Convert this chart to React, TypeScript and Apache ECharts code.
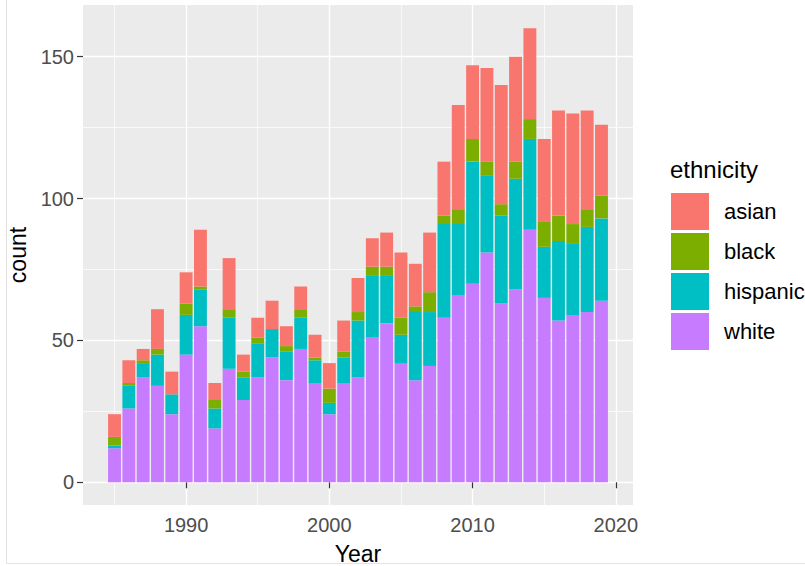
import React, { useEffect, useRef } from "react";
import * as echarts from "echarts";

const years = [
  1985, 1986, 1987, 1988, 1989, 1990, 1991, 1992, 1993, 1994, 1995, 1996,
  1997, 1998, 1999, 2000, 2001, 2002, 2003, 2004, 2005, 2006, 2007, 2008,
  2009, 2010, 2011, 2012, 2013, 2014, 2015, 2016, 2017, 2018, 2019,
];
const white = [
  12, 26, 37, 34, 24, 45, 55, 19, 40, 29, 37, 44, 36, 47, 35, 24, 35, 37, 51,
  56, 42, 36, 41, 58, 66, 70, 81, 63, 68, 89, 65, 57, 59, 60, 64,
];
const hispanic = [
  1, 8, 5, 11, 7, 14, 13, 7, 18, 8, 12, 10, 10, 11, 8, 4, 9, 20, 22, 17, 10,
  24, 19, 33, 25, 43, 27, 31, 39, 32, 18, 28, 25, 30, 29,
];
const black = [
  3, 1, 1, 2, 0, 4, 1, 3, 3, 2, 2, 0, 2, 3, 1, 5, 2, 3, 3, 3, 6, 2, 7, 3, 5,
  8, 5, 4, 6, 7, 9, 9, 7, 6, 8,
];
const asian = [
  8, 8, 4, 14, 8, 11, 20, 6, 18, 6, 7, 10, 7, 8, 8, 9, 11, 12, 10, 12, 23, 15,
  21, 19, 37, 26, 33, 42, 37, 32, 29, 37, 39, 35, 25,
];
const yMajorTicks = [0, 50, 100, 150];
const yMinorTicks = [25, 75, 125];
const xMajorTicks = [1990, 2000, 2010, 2020];
const xMinorTicks = [1985, 1995, 2005, 2015];

const COLORS: Record<string, string> = {
  asian: "#F8766D",
  black: "#7CAE00",
  hispanic: "#00BFC4",
  white: "#C77CFF",
};

const FONT = "Liberation Sans, Arial, sans-serif";

export default function App() {
  const ref = useRef<HTMLDivElement>(null);
  useEffect(() => {
    if (!ref.current) return;
    const chart = echarts.init(ref.current, undefined, { renderer: "svg" });
    // data rows are [count, year] so that the count dimension is the stacked one
    const mk = (name: string, arr: number[]) => ({
      name,
      type: "bar",
      stack: "total",
      barWidth: "90%",
      xAxisIndex: 0,
      yAxisIndex: 0,
      encode: { x: 1, y: 0 },
      itemStyle: { color: COLORS[name] },
      data: years.map((y, i) => [arr[i], y]),
      z: 3,
    });
    const xMin = 1982.8;
    const xMax = 2021.2;
    const yMin = -8;
    const yMax = 168.2;
    chart.setOption({
      animation: false,
      backgroundColor: "#FFFFFF",
      textStyle: { fontFamily: FONT },
      title: {
        text: "ethnicity",
        left: 670,
        top: 157,
        padding: 0,
        textStyle: {
          fontSize: 24,
          fontWeight: "normal",
          color: "#000",
          fontFamily: FONT,
        },
      },
      legend: {
        orient: "vertical",
        left: 671,
        top: 193,
        padding: 0,
        itemWidth: 38,
        itemHeight: 37,
        itemGap: 3,
        icon: "rect",
        data: ["asian", "black", "hispanic", "white"],
        textStyle: {
          fontSize: 22,
          color: "#000",
          fontFamily: FONT,
          padding: [0, 0, 0, 10],
        },
      },
      grid: {
        left: 83,
        right: 172,
        top: 5,
        bottom: 61,
        show: true,
        backgroundColor: "#EBEBEB",
        borderWidth: 0,
        containLabel: false,
        outerBoundsMode: "none",
      },
      xAxis: [
        {
          type: "value",
          min: xMin,
          max: xMax,
          position: "bottom",
          axisLine: { show: false },
          axisTick: {
            show: true,
            length: 6,
            lineStyle: { color: "#333333", width: 1.2 },
            customValues: xMajorTicks,
          },
          axisLabel: {
            customValues: xMajorTicks,
            formatter: (v: number) => String(v),
            color: "#4D4D4D",
            fontSize: 20,
            fontFamily: FONT,
            margin: 10,
          },
          splitLine: { show: true, lineStyle: { color: "#FFFFFF", width: 1.4 } },
          name: "Year",
          nameLocation: "middle",
          nameGap: 37,
          nameTextStyle: { fontSize: 23, color: "#000", fontFamily: FONT },
        },
        {
          type: "value",
          min: xMin,
          max: xMax,
          position: "top",
          axisLine: { show: false },
          axisTick: { show: false, customValues: xMinorTicks },
          axisLabel: { show: false, customValues: xMinorTicks },
          splitLine: { show: true, lineStyle: { color: "#FFFFFF", width: 0.7 } },
        },
      ],
      yAxis: [
        {
          type: "value",
          min: yMin,
          max: yMax,
          position: "left",
          axisLine: { show: false },
          axisTick: {
            show: true,
            length: 6,
            lineStyle: { color: "#333333", width: 1.2 },
            customValues: yMajorTicks,
          },
          axisLabel: {
            customValues: yMajorTicks,
            formatter: (v: number) => String(v),
            color: "#4D4D4D",
            fontSize: 20,
            fontFamily: FONT,
            margin: 9,
          },
          splitLine: { show: true, lineStyle: { color: "#FFFFFF", width: 1.4 } },
          name: "count",
          nameLocation: "middle",
          nameGap: 54,
          nameTextStyle: { fontSize: 23, color: "#000", fontFamily: FONT },
        },
        {
          type: "value",
          min: yMin,
          max: yMax,
          position: "right",
          axisLine: { show: false },
          axisTick: { show: false, customValues: yMinorTicks },
          axisLabel: { show: false, customValues: yMinorTicks },
          splitLine: { show: true, lineStyle: { color: "#FFFFFF", width: 0.7 } },
        },
      ],
      graphic: [
        {
          type: "line",
          shape: { x1: 6.5, y1: 0, x2: 6.5, y2: 563.5 },
          style: { stroke: "#E2E2E2", lineWidth: 1 },
        },
        {
          type: "line",
          shape: { x1: 6.5, y1: 563.5, x2: 805, y2: 563.5 },
          style: { stroke: "#E2E2E2", lineWidth: 1 },
        },
      ],
      series: [
        mk("white", white),
        mk("hispanic", hispanic),
        mk("black", black),
        mk("asian", asian),
      ],
    });
    return () => chart.dispose();
  }, []);
  return (
    <div
      ref={ref}
      style={{ position: "fixed", left: 0, top: 0, width: 805, height: 566 }}
    />
  );
}
